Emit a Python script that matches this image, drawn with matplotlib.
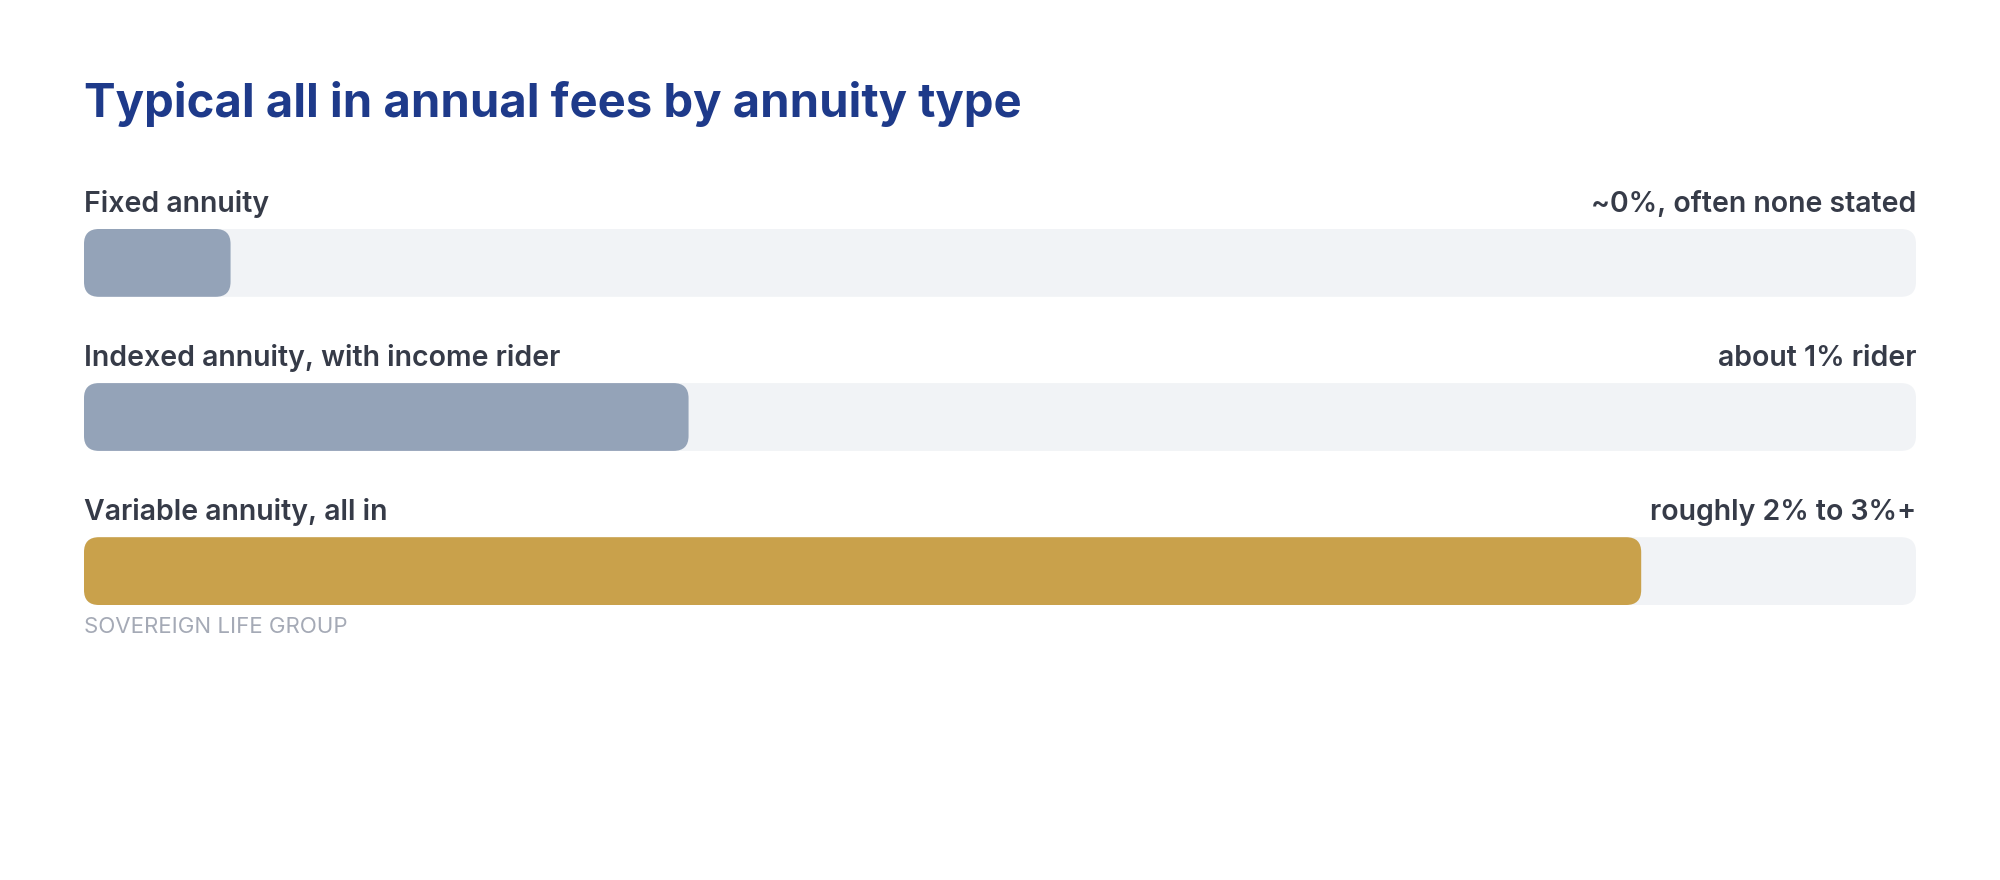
import matplotlib.pyplot as plt
from matplotlib.patches import FancyBboxPatch

# data
categories = ["Fixed annuity", "Indexed annuity, with income rider", "Variable annuity, all in"]
fee_notes = ["~0%, often none stated", "about 1% rider", "roughly 2% to 3%+"]
bar_share = [8, 33, 85]  # fill length, percent of track
bar_colors = ["#94a3b8", "#94a3b8", "#c9a14b"]

title = "Typical all in annual fees by annuity type"
footer = "SOVEREIGN LIFE GROUP"

plt.rcParams["font.family"] = ["Inter", "DejaVu Sans"]

W, H = 2000, 880
fig = plt.figure(figsize=(W / 100, H / 100), dpi=100)
fig.patch.set_facecolor("white")

# axes spans the three tracks (pixels 84..1916 wide, 229..605 tall)
left, right, top, bottom = 84, 1916, 229, 605
ax = fig.add_axes([left / W, 1 - bottom / H, (right - left) / W, (bottom - top) / H])
ax.set_xlim(0, 100)
bar_h = 0.44
ax.set_ylim(len(categories) - 1 + bar_h / 2, -bar_h / 2)
ax.axis("off")

# keep rounded corners circular
px_x = (right - left) / 100.0
px_y = (bottom - top) / (len(categories) - 1 + bar_h)
aspect = px_x / px_y
radius = 15 / px_x

for i, (cat, note, val, col) in enumerate(zip(categories, fee_notes, bar_share, bar_colors)):
    y0 = i - bar_h / 2
    track = FancyBboxPatch((0, y0), 100, bar_h,
                           boxstyle=f"round,pad=0,rounding_size={radius}",
                           mutation_aspect=aspect, fc="#f1f3f6", ec="none")
    ax.add_patch(track)
    fill = FancyBboxPatch((0, y0), val, bar_h,
                          boxstyle=f"round,pad=0,rounding_size={radius}",
                          mutation_aspect=aspect, fc=col, ec="none")
    ax.add_patch(fill)
    ax.text(0, y0 - 0.11, cat, ha="left", va="baseline", fontsize=20.5,
            fontweight="semibold", color="#363b48")
    ax.text(100, y0 - 0.11, note, ha="right", va="baseline", fontsize=20.5,
            fontweight="semibold", color="#363b48")

ax.text(0, len(categories) - 1 + bar_h / 2 + 0.18, footer, ha="left", va="baseline",
        fontsize=16, color="#a5aab6")

fig.text(left / W, 1 - 117 / H, title, ha="left", va="baseline", fontsize=34,
         fontweight="bold", color="#1e3a8a")

fig.savefig("out.png", dpi=100, facecolor="white")
